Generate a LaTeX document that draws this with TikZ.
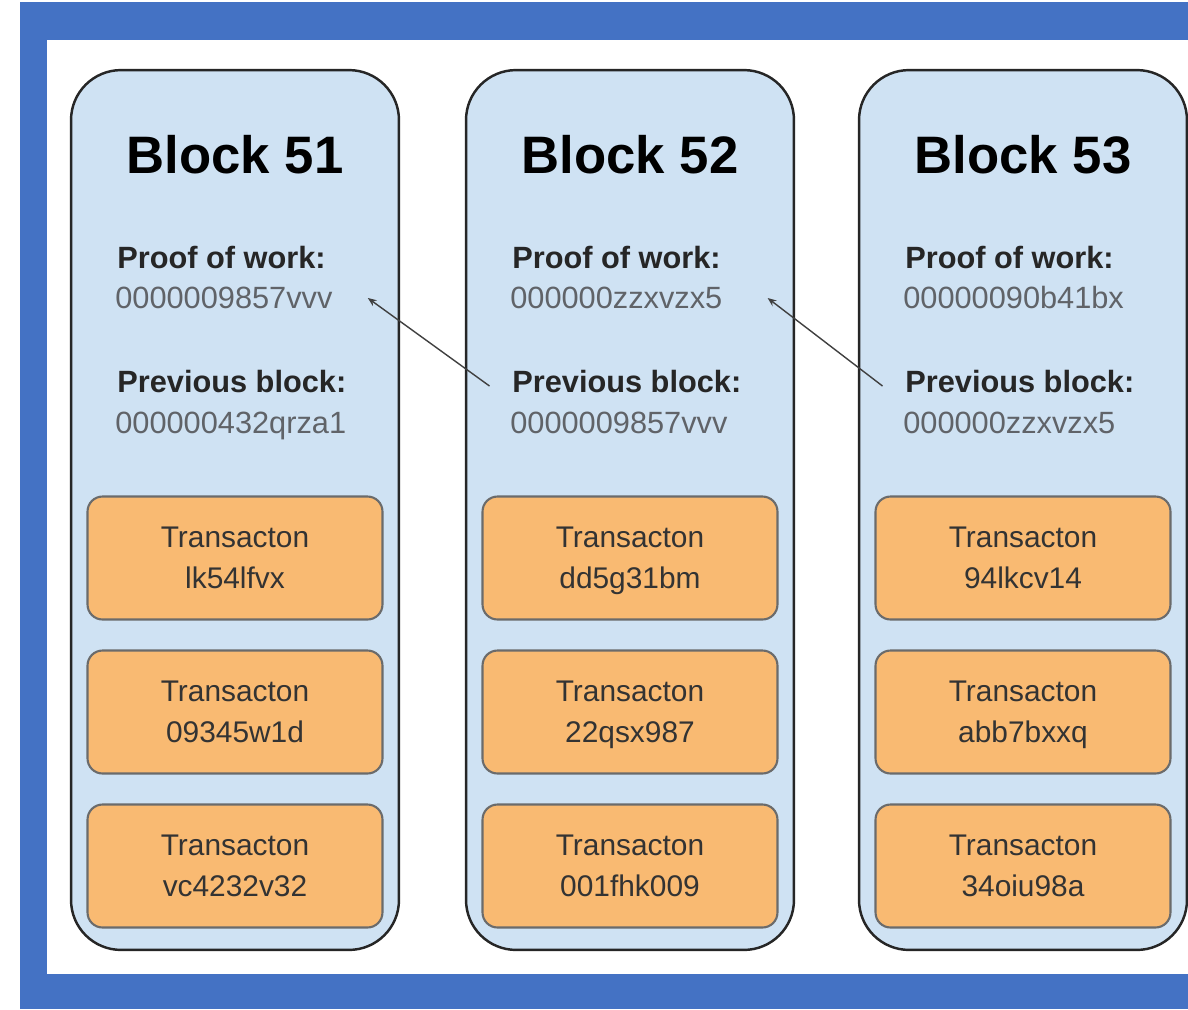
\documentclass[tikz,border=0pt]{standalone}
\usepackage{fontspec}
\setmainfont{Liberation Sans}
\usetikzlibrary{positioning,arrows.meta}
\definecolor{frameblue}{HTML}{4472C4}
\definecolor{blockfill}{HTML}{CFE2F3}
\definecolor{txfill}{HTML}{F9BA72}
\definecolor{hashgray}{HTML}{606368}

\begin{document}
\begin{tikzpicture}[x=0.02cm, y=-0.02cm,
    blockbox/.style={draw=black!85, line width=1.4pt, fill=blockfill, rounded corners=1cm,
        minimum width=6.56cm, minimum height=17.6cm},
    txbox/.style={draw=black!58, line width=1.2pt, fill=txfill, rounded corners=0.3cm,
        minimum width=5.9cm, minimum height=2.46cm, align=center,
        font=\fontsize{17}{23.5}\selectfont, text=black!80},
    blocktitle/.style={font=\bfseries\fontsize{30}{36}\selectfont},
    fieldname/.style={anchor=west, inner sep=0pt, text height=12.5pt, text depth=0pt,
        font=\bfseries\fontsize{17.5}{20}\selectfont, text=black!85},
    hash/.style={anchor=west, inner sep=0pt, text height=12.5pt, text depth=0pt,
        font=\fontsize{17.5}{20}\selectfont, text=hashgray},
    link/.style={-{Stealth[length=5pt,width=4pt]}, black!75, line width=0.8pt}]

    \useasboundingbox (0,0) rectangle (1188,1009);
    \fill[frameblue] (20,2) rectangle (1188,1009);
    \fill[white] (47,40) rectangle (1188,974);

    \foreach \n/\x/\pow/\prev/\ta/\tb/\tc in {
        51/235/0000009857vvv/000000432qrza1/lk54lfvx/09345w1d/vc4232v32,
        52/630/000000zzxvzx5/0000009857vvv/dd5g31bm/22qsx987/001fhk009,
        53/1023/00000090b41bx/000000zzxvzx5/94lkcv14/abb7bxxq/34oiu98a}
    {
        \node[blockbox] at (\x,510)(b\n) {};
        \node[blocktitle] at (\x,155)(t\n) {Block \n};
        \node[fieldname] at (\x-118,258)(pl\n) {Proof of work:};
        \node[hash] at (\x-120,298)(ph\n) {\pow};
        \node[fieldname] at (\x-118,382)(vl\n) {Previous block:};
        \node[hash] at (\x-120,423)(vh\n) {\prev};
        \node[txbox] at (\x,558)(ta\n) {Transacton\\\smash{\ta}};
        \node[txbox] at (\x,712)(tb\n) {Transacton\\\smash{\tb}};
        \node[txbox] at (\x,866)(tc\n) {Transacton\\\smash{\tc}};
    }

    \draw[link] ([xshift=-0.45cm,yshift=-0.08cm]vl52.west) -- ([xshift=0.7cm]ph51.east);
    \draw[link] ([xshift=-0.45cm,yshift=-0.08cm]vl53.west) -- ([xshift=0.9cm]ph52.east);

\end{tikzpicture}
\end{document}
